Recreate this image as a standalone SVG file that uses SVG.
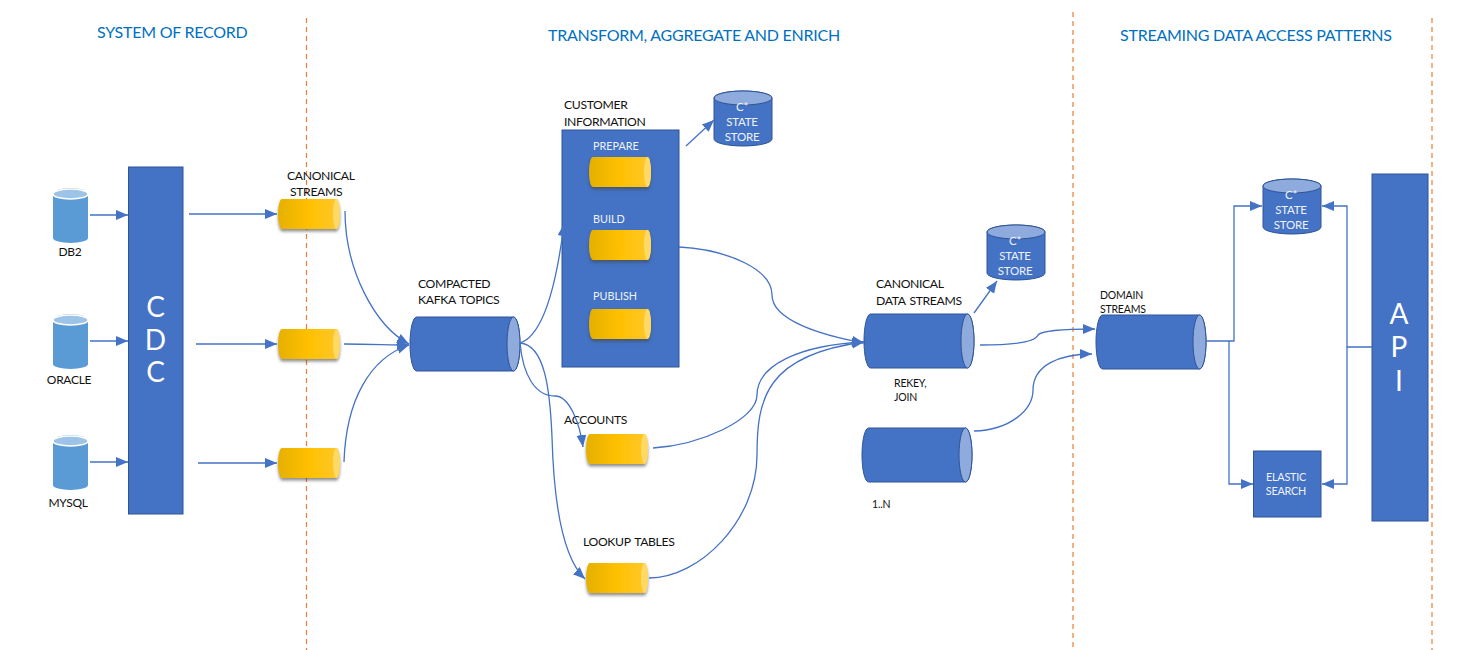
<svg xmlns="http://www.w3.org/2000/svg" width="1458" height="650" viewBox="0 0 1458 650">
<style>
text{font-family:"Lato","Open Sans","Liberation Sans",sans-serif}
.h{font-size:16px;letter-spacing:-.25px;fill:#0070c0}
.l{font-size:12.200px;letter-spacing:-.35px;word-spacing:1.500px;fill:#111}
.s{font-size:12px;letter-spacing:-.3px;fill:#111}
.t{font-size:10.500px;letter-spacing:-.2px;fill:#111}
.in{font-size:10.800px;fill:#eef2fa}
.w{font-size:11.500px;letter-spacing:-.2px;fill:#eef2fa;text-anchor:middle}
.e{font-size:10.800px;letter-spacing:-.2px;fill:#eef2fa;text-anchor:middle}
.big{font-size:28px;fill:#fff;text-anchor:middle}
.div{stroke:#ed7d31;stroke-width:1.2;stroke-dasharray:5 4;fill:none}
.c{fill:none;stroke:#4472c4;stroke-width:1.3}
.a{marker-end:url(#arr)}
.box{fill:#4472c4;stroke:#2f5597;stroke-width:1}
.cap{fill:#8faadc;stroke:#2f5597;stroke-width:1}
.y{fill:url(#yg);filter:url(#sh)}
.yc{fill:#ffd966}
.db{fill:#5b9bd5}
.dbc{fill:#9dc3e6;stroke:#fff;stroke-width:1.5}
</style>
<defs>
<marker id="arr" markerWidth="14" markerHeight="12" refX="12" refY="5" orient="auto" markerUnits="userSpaceOnUse"><path d="M0 0L12 5L0 10Z" fill="#4472c4"/></marker>
<linearGradient id="yg" x1="0" x2="1" y1="0" y2="0"><stop offset="0" stop-color="#e5b000"/><stop offset=".5" stop-color="#ffc000"/><stop offset="1" stop-color="#ffc82e"/></linearGradient>
<filter id="sh" x="-10%" y="-15%" width="125%" height="145%"><feDropShadow dx="0" dy="2.500" stdDeviation="1.500" flood-color="#444" flood-opacity=".6"/></filter>
<g id="ycyl"><path class="y" d="M4 0H58.500A3.500 15 0 0 1 58.500 30H4A4 15 0 0 1 4 0Z"/><ellipse class="yc" cx="58.500" cy="15" rx="3.500" ry="15"/></g>
<g id="bcyl"><path class="box" d="M6.500 0H103.500A6.500 27 0 0 1 103.500 54H6.500A6.500 27 0 0 1 6.500 0Z"/><ellipse class="cap" cx="103.500" cy="27" rx="6.500" ry="27"/></g>
<g id="store"><path class="box" d="M0 7A29 7 0 0 1 58 7V48A29 7 0 0 1 0 48Z"/><ellipse class="cap" cx="29" cy="7" rx="29" ry="7"/></g>
<g id="dbcyl"><path class="db" d="M0 6A17.500 6 0 0 1 35 6V50A17.500 5 0 0 1 0 50Z"/><ellipse class="dbc" cx="17.500" cy="6" rx="17.500" ry="5"/></g>
</defs>
<rect width="1458" height="650" fill="#fff"/>

<g id="dividers">
<path class="div" d="M306.500 18V650M1073 12V650M1432 18V650"/>
</g>
<g id="headings">
<text class="h" x="97" y="38">SYSTEM OF RECORD</text>
<text class="h" x="548" y="41">TRANSFORM, AGGREGATE AND ENRICH</text>
<text class="h" x="1120" y="41">STREAMING DATA ACCESS PATTERNS</text>
</g>

<g id="db2"><use href="#dbcyl" x="53" y="188"/><text class="s" x="70" y="256" text-anchor="middle">DB2</text></g>
<g id="oracle"><use href="#dbcyl" x="53" y="314"/><text class="s" x="69" y="384" text-anchor="middle">ORACLE</text></g>
<g id="mysql"><use href="#dbcyl" x="53" y="435"/><text class="s" x="68" y="507" text-anchor="middle">MYSQL</text></g>
<g id="cdc"><rect class="box" x="128.500" y="167" width="54.500" height="347"/>
<text class="big" x="155.500" y="317">C</text><text class="big" x="155.500" y="350">D</text><text class="big" x="155.500" y="382">C</text></g>

<g id="canonical1"><use href="#ycyl" x="278" y="199"/><text class="l" x="287" y="180">CANONICAL</text><text class="l" x="290" y="196">STREAMS</text></g>
<g id="canonical2"><use href="#ycyl" x="278" y="329"/></g>
<g id="canonical3"><use href="#ycyl" x="278" y="448"/></g>

<g id="kafka"><use href="#bcyl" x="410" y="317"/><text class="l" x="418" y="288">COMPACTED</text><text class="l" x="418" y="304">KAFKA TOPICS</text></g>

<g id="customer"><rect class="box" x="562" y="130" width="117" height="237"/>
<text class="l" x="564" y="109">CUSTOMER</text><text class="l" x="564" y="126">INFORMATION</text>
<text class="in" x="593" y="150">PREPARE</text>
<use href="#ycyl" x="589" y="157"/>
<text class="in" x="593" y="223">BUILD</text>
<use href="#ycyl" x="589" y="230"/>
<text class="in" x="593" y="300">PUBLISH</text>
<use href="#ycyl" x="589" y="309"/></g>

<g id="store1"><use href="#store" x="714" y="91"/><text class="w" x="742" y="111">C*</text><text class="w" x="742" y="126">STATE</text><text class="w" x="742" y="141">STORE</text></g>

<g id="accounts"><use href="#ycyl" x="586" y="434"/><text class="l" x="564" y="424">ACCOUNTS</text></g>
<g id="lookup"><use href="#ycyl" x="586" y="563"/><text class="l" x="583" y="546">LOOKUP TABLES</text></g>

<g id="canonicaldata"><use href="#bcyl" x="864" y="314"/><text class="l" x="876" y="288">CANONICAL</text><text class="l" x="876" y="305">DATA STREAMS</text>
<text class="t" x="894" y="387">REKEY,</text><text class="t" x="894" y="401">JOIN</text></g>
<g id="store2"><use href="#store" x="987" y="225"/><text class="w" x="1015" y="245">C*</text><text class="w" x="1015" y="260">STATE</text><text class="w" x="1015" y="275">STORE</text></g>
<g id="stream1n"><use href="#bcyl" x="862" y="428"/><text class="t" x="872" y="508">1..N</text></g>

<g id="domain"><use href="#bcyl" x="1096" y="315"/><text class="t" x="1100" y="299">DOMAIN</text><text class="t" x="1100" y="313">STREAMS</text></g>
<g id="store3"><use href="#store" x="1263" y="179"/><text class="w" x="1291" y="199">C*</text><text class="w" x="1291" y="214">STATE</text><text class="w" x="1291" y="229">STORE</text></g>
<g id="elastic"><rect class="box" x="1253.500" y="451" width="67.500" height="66"/><text class="e" x="1286" y="481">ELASTIC</text><text class="e" x="1286" y="495">SEARCH</text></g>
<g id="api"><rect class="box" x="1372" y="174" width="56" height="347"/>
<text class="big" x="1399" y="324">A</text><text class="big" x="1399" y="357">P</text><text class="big" x="1399" y="391">I</text></g>

<g id="connectors">
<path class="c a" d="M90 215H128"/>
<path class="c a" d="M90 341H128"/>
<path class="c a" d="M90 462H128"/>
<path class="c a" d="M189 214H277"/>
<path class="c a" d="M196 344H277"/>
<path class="c a" d="M198 463H277"/>
<path class="c a" d="M345 211C345 270 375 326 409 344"/>
<path class="c a" d="M344 344C370 344 390 345 409 345"/>
<path class="c a" d="M344 462C346 400 370 358 409 345"/>
<path class="c a" d="M520 343C545 335 557 280 564 224"/>
<path class="c a" d="M520 343C523 375 535 396 555 396C570 396 580 425 583 447"/>
<path class="c a" d="M520 343C545 345 550 390 552 437C554 510 565 560 585 579"/>
<path class="c a" d="M679 247C730 250 772 270 772 295C772 320 820 335 864 343"/>
<path class="c a" d="M653 448C700 445 757 420 757 395C757 365 800 345 864 342"/>
<path class="c a" d="M649 578C700 578 757 520 757 455C757 400 765 355 864 342"/>
<path class="c a" d="M686 146L714 120"/>
<path class="c a" d="M974 313L997 281"/>
<path class="c a" d="M980 345C1010 345 1035 343 1038 335C1042 330 1070 329 1095 329"/>
<path class="c a" d="M974 431C1010 430 1033 410 1033 390C1033 365 1060 354 1092 354"/>
<path class="c a" d="M1206 341H1234V206H1262"/>
<path class="c a" d="M1229 341V484H1253"/>
<path class="c a" d="M1372 347H1347V206H1322"/>
<path class="c a" d="M1347 347V484H1322"/>
</g>
</svg>
